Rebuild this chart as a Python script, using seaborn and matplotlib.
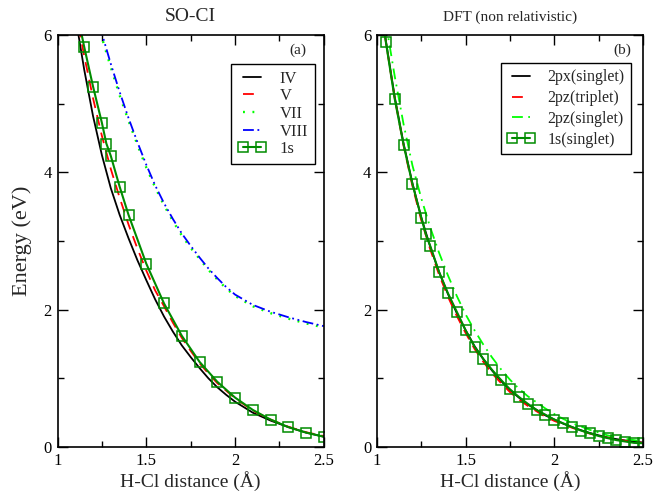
import matplotlib
matplotlib.use("Agg")
import matplotlib.pyplot as plt
import seaborn as sns

# ---- panel (a): SO-CI ----
x_a = [1.1, 1.15, 1.2, 1.25, 1.3, 1.35, 1.4, 1.45, 1.5, 1.55, 1.6, 1.65, 1.7,
       1.75, 1.8, 1.85, 1.9, 1.95, 2.0, 2.1, 2.2, 2.3, 2.4, 2.5]
iv = [6.28, 5.50, 4.82, 4.25, 3.77, 3.38, 3.04, 2.72, 2.43, 2.15, 1.90, 1.68, 1.48,
      1.31, 1.15, 1.00, 0.87, 0.76, 0.66, 0.50, 0.385, 0.29, 0.21, 0.15]
v = [6.38, 5.70, 5.08, 4.53, 4.05, 3.63, 3.24, 2.89, 2.57, 2.28, 2.05, 1.81, 1.59,
     1.40, 1.22, 1.07, 0.93, 0.82, 0.71, 0.53, 0.40, 0.295, 0.215, 0.16]

x_a_hi = [1.2, 1.25, 1.3, 1.35, 1.4, 1.45, 1.5, 1.55, 1.6, 1.65, 1.7, 1.75, 1.8,
          1.85, 1.9, 1.95, 2.0, 2.1, 2.2, 2.3, 2.4, 2.5]
vii = [6.44, 5.96, 5.53, 5.12, 4.75, 4.40, 4.07, 3.78, 3.52, 3.29, 3.08, 2.90, 2.74,
       2.58, 2.44, 2.31, 2.20, 2.05, 1.95, 1.87, 1.80, 1.74]
viii = [6.50, 6.02, 5.58, 5.17, 4.79, 4.44, 4.11, 3.81, 3.55, 3.32, 3.11, 2.93, 2.76,
        2.60, 2.46, 2.33, 2.22, 2.07, 1.97, 1.89, 1.82, 1.76]

x_a_1s = [1.1, 1.15, 1.2, 1.25, 1.275, 1.3, 1.35, 1.4, 1.5, 1.6, 1.7, 1.8, 1.9,
          2.0, 2.1, 2.2, 2.3, 2.4, 2.5]
s1_a = [6.45, 5.83, 5.25, 4.72, 4.42, 4.24, 3.79, 3.38, 2.67, 2.09, 1.62, 1.24, 0.95,
        0.72, 0.54, 0.40, 0.29, 0.21, 0.15]

# ---- panel (b): DFT (non relativistic) ----
x_b = [1.0, 1.05, 1.1, 1.15, 1.2, 1.25, 1.3, 1.35, 1.4, 1.45, 1.5, 1.55, 1.6, 1.65,
       1.7, 1.75, 1.8, 1.85, 1.9, 1.95, 2.0, 2.05, 2.1, 2.15, 2.2, 2.25, 2.3, 2.35,
       2.4, 2.45, 2.5]
px_singlet = [6.85, 5.92, 5.10, 4.42, 3.84, 3.34, 2.92, 2.55, 2.23, 1.95, 1.70, 1.47,
              1.28, 1.11, 0.96, 0.83, 0.72, 0.62, 0.54, 0.46, 0.40, 0.34, 0.29, 0.245,
              0.205, 0.17, 0.14, 0.115, 0.095, 0.08, 0.065]
pz_triplet = [6.80, 5.90, 5.08, 4.39, 3.80, 3.30, 2.88, 2.51, 2.19, 1.91, 1.66, 1.43,
              1.24, 1.07, 0.93, 0.80, 0.69, 0.60, 0.52, 0.44, 0.38, 0.33, 0.28, 0.235,
              0.195, 0.16, 0.135, 0.11, 0.09, 0.075, 0.06]
pz_singlet = [7.10, 6.18, 5.40, 4.70, 4.10, 3.62, 3.20, 2.83, 2.50, 2.20, 1.93, 1.70,
              1.49, 1.30, 1.13, 0.98, 0.85, 0.74, 0.65, 0.56, 0.48, 0.41, 0.35, 0.30,
              0.25, 0.21, 0.17, 0.14, 0.12, 0.10, 0.08]

x_b_1s = [1.0, 1.05, 1.1, 1.15, 1.2, 1.25, 1.275, 1.3, 1.35, 1.4, 1.45, 1.5, 1.55,
          1.6, 1.65, 1.7, 1.75, 1.8, 1.85, 1.9, 1.95, 2.0, 2.05, 2.1, 2.15, 2.2, 2.25,
          2.3, 2.35, 2.4, 2.45, 2.5]
s1_b = [6.80, 5.90, 5.07, 4.40, 3.83, 3.34, 3.10, 2.93, 2.55, 2.24, 1.97, 1.70, 1.46,
        1.28, 1.12, 0.975, 0.84, 0.73, 0.63, 0.54, 0.47, 0.40, 0.345, 0.29, 0.24, 0.20,
        0.16, 0.13, 0.10, 0.08, 0.06, 0.055]

GREEN = "#00ff00"
DKGREEN = "#008c00"

sns.set_style("ticks")
plt.rcParams["font.family"] = ["Liberation Serif", "DejaVu Serif"]

fig = plt.figure(figsize=(6.69, 4.98), dpi=100)
ax1 = fig.add_axes([0.086, 0.1024, 0.398, 0.8273])
ax2 = fig.add_axes([0.5635, 0.1024, 0.3976, 0.8273])

lw = 1.3
sns.lineplot(x=x_a, y=iv, ax=ax1, color="black", lw=lw, label="IV",
             estimator=None, sort=False)
sns.lineplot(x=x_a, y=v, ax=ax1, color="red", lw=lw, label="V",
             linestyle=(0, (6, 4)), estimator=None, sort=False)
sns.lineplot(x=x_a_hi, y=vii, ax=ax1, color=GREEN, lw=lw + 0.4, label="VII",
             linestyle=(0, (0.8, 3.2)), estimator=None, sort=False)
sns.lineplot(x=x_a_hi, y=viii, ax=ax1, color="blue", lw=lw, label="VIII",
             linestyle=(0, (6, 2, 1, 2, 1, 2)), estimator=None, sort=False)
sns.lineplot(x=x_a_1s, y=s1_a, ax=ax1, color=DKGREEN, lw=lw + 0.2, label="1s",
             marker="s", markersize=7.5, markerfacecolor="none",
             markeredgecolor=DKGREEN, markeredgewidth=1.1,
             estimator=None, sort=False)

sns.lineplot(x=x_b, y=px_singlet, ax=ax2, color="black", lw=lw, label="2px(singlet)",
             estimator=None, sort=False)
sns.lineplot(x=x_b, y=pz_triplet, ax=ax2, color="red", lw=lw, label="2pz(triplet)",
             linestyle=(0, (6, 4)), estimator=None, sort=False)
sns.lineplot(x=x_b, y=pz_singlet, ax=ax2, color=GREEN, lw=lw, label="2pz(singlet)",
             linestyle=(0, (6, 3, 1, 3)), estimator=None, sort=False)
sns.lineplot(x=x_b_1s, y=s1_b, ax=ax2, color=DKGREEN, lw=lw + 0.2, label="1s(singlet)",
             marker="s", markersize=7.5, markerfacecolor="none",
             markeredgecolor=DKGREEN, markeredgewidth=1.1,
             estimator=None, sort=False)

for ax in (ax1, ax2):
    ax.set_xlim(1, 2.5)
    ax.set_ylim(0, 6)
    ax.set_xticks([1, 1.5, 2, 2.5])
    ax.set_xticklabels(["1", "1.5", "2", "2.5"])
    ax.set_xticks([1.25, 1.75, 2.25], minor=True)
    ax.set_yticks([0, 2, 4, 6])
    ax.set_yticks([1, 3, 5], minor=True)
    ax.tick_params(which="both", direction="in", top=True, right=True,
                   labelsize=12, width=1.0, colors="black")
    ax.tick_params(which="major", length=7, pad=4)
    ax.tick_params(which="minor", length=4)
    for sp in ax.spines.values():
        sp.set_visible(True)
        sp.set_linewidth(1.2)
        sp.set_color("black")
    ax.set_xlabel("H-Cl distance (Å)", fontsize=14, labelpad=2)
    ax.set_ylabel("")

ax1.set_ylabel("Energy (eV)", fontsize=16, labelpad=8)
ax1.set_title("SO-CI", fontsize=14, pad=10)
ax2.set_title("DFT (non relativistic)", fontsize=11, pad=10)

ax1.text(0.936, 0.964, "(a)", transform=ax1.transAxes, ha="right", va="center",
         fontsize=11)
ax2.text(0.955, 0.964, "(b)", transform=ax2.transAxes, ha="right", va="center",
         fontsize=11)

leg_kw = dict(loc="upper right", frameon=True, fancybox=False, framealpha=1,
              edgecolor="black", numpoints=2, borderpad=0.4, handletextpad=0.8,
              borderaxespad=0)
leg1 = ax1.legend(bbox_to_anchor=(0.966, 0.930), fontsize=12, handlelength=1.7,
                  labelspacing=0.1, **leg_kw)
leg2 = ax2.legend(bbox_to_anchor=(0.955, 0.932), fontsize=11.5, handlelength=1.7,
                  labelspacing=0.3, **leg_kw)
for leg in (leg1, leg2):
    leg.get_frame().set_linewidth(1.0)

fig.savefig("out.png", dpi=100)
